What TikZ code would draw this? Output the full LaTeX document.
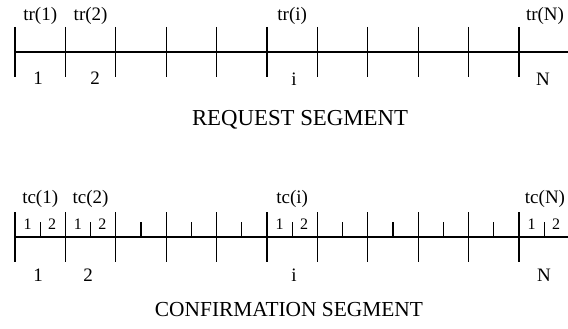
\documentclass[tikz,border=0pt]{standalone}
\usepackage{fontspec}
\setmainfont{Liberation Serif}
\begin{document}
\begin{tikzpicture}[x=1pt,y=-1pt,
  seg/.style={line width=1.2pt},
  subtick/.style={line width=1.1pt},
  lbl/.style={inner sep=0pt,font=\fontsize{19}{21}\selectfont},
  smalllbl/.style={inner sep=0pt,font=\fontsize{16}{18}\selectfont},
  reqtitle/.style={inner sep=0pt,font=\fontsize{22.8}{25}\selectfont},
  conftitle/.style={inner sep=0pt,font=\fontsize{21.4}{24}\selectfont}]
\useasboundingbox (0,0) rectangle (568,329);
% ---------- request segment ----------
\coordinate (rL) at (15,52);
\coordinate (rR) at (568,52);
\draw[seg] (rL) -- (rR);
\foreach \k in {0,...,10}{
  \draw[seg] (15+50.4*\k,27) -- (15+50.4*\k,77);
}
\node[lbl] (tr1) at (40.2,16) {tr(1)};
\node[lbl] (tr2) at (90.6,16) {tr(2)};
\node[lbl] (tri) at (292.2,16) {tr(i)};
\node[lbl] (trN) at (545,16) {tr(N)};
\node[lbl] (rn1) at (38,78) {1};
\node[lbl] (rn2) at (95,78) {2};
\node[lbl] (rni) at (294,79) {i};
\node[lbl] (rnN) at (543,79) {N};
\node[reqtitle] (req) at (300,120) {REQUEST SEGMENT};
% ---------- confirmation segment ----------
\coordinate (cL) at (15,237);
\coordinate (cR) at (568,237);
\draw[seg] (cL) -- (cR);
\foreach \k in {0,...,10}{
  \draw[seg] (15+50.4*\k,212) -- (15+50.4*\k,262);
}
\foreach \k in {0,...,10}{
  \draw[subtick] (40.2+50.4*\k,222) -- (40.2+50.4*\k,237);
}
\foreach \k/\n in {0/a,1/b,5/c,10/d}{
  \node[smalllbl] (s1\n) at (27.5+50.4*\k,224) {1};
  \node[smalllbl] (s2\n) at (52+50.4*\k,224) {2};
}
\node[lbl] (tc1) at (40.2,199) {tc(1)};
\node[lbl] (tc2) at (90.6,199) {tc(2)};
\node[lbl] (tci) at (292.2,199) {tc(i)};
\node[lbl] (tcN) at (545,199) {tc(N)};
\node[lbl] (cn1) at (38,275) {1};
\node[lbl] (cn2) at (88,275) {2};
\node[lbl] (cni) at (294,275) {i};
\node[lbl] (cnN) at (544,275) {N};
\node[conftitle] (conf) at (289,310) {CONFIRMATION SEGMENT};
\end{tikzpicture}
\end{document}
